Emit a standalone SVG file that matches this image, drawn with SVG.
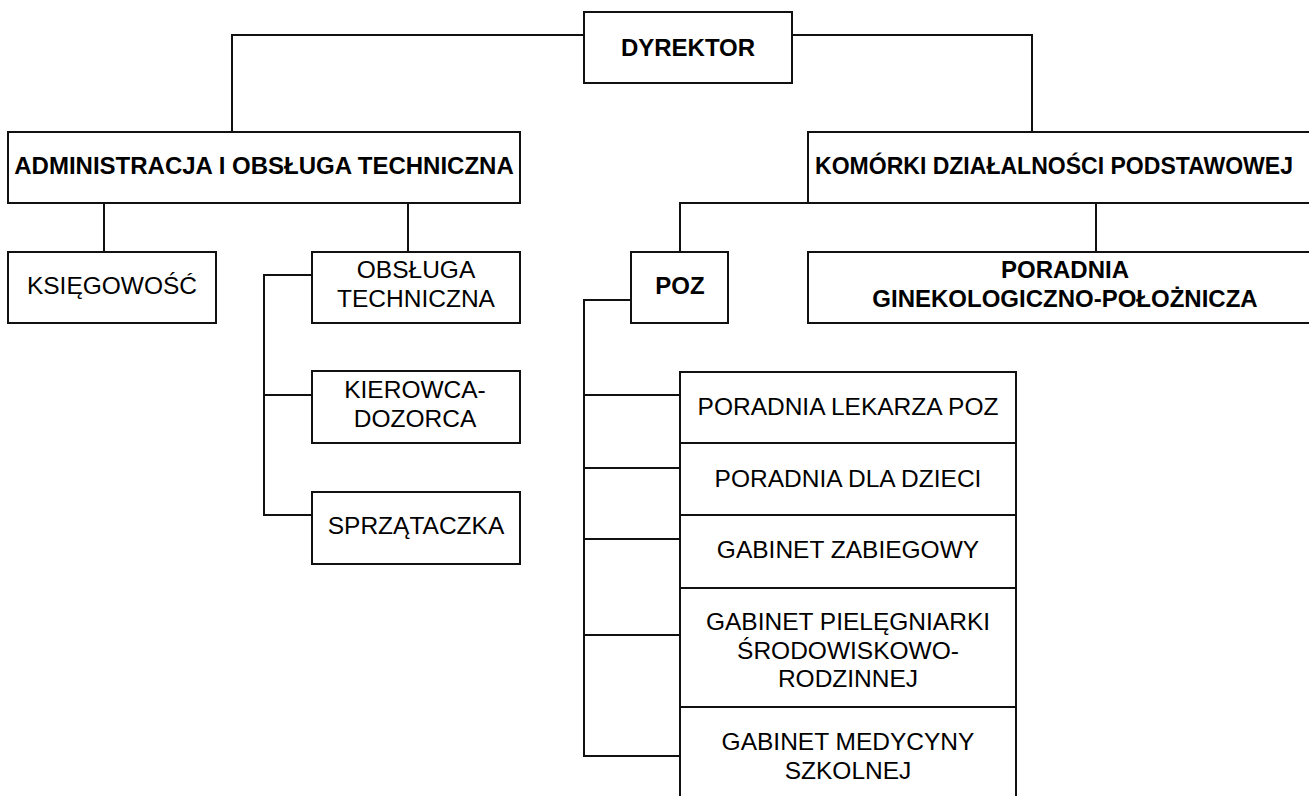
<svg xmlns="http://www.w3.org/2000/svg" width="1309" height="796" viewBox="0 0 1309 796">
<style>
rect{fill:#fff;stroke:#111;stroke-width:2}
#connectors path{fill:none;stroke:#111;stroke-width:2}
text{font-family:"Liberation Sans",Arial,sans-serif;font-size:24.5px;fill:#000;text-anchor:middle}
.b{font-weight:bold;font-size:24px}
</style>
<rect x="0" y="0" width="1309" height="796" style="stroke:none"/>
<g id="connectors">
<path d="M584,35 H232 V132"/>
<path d="M792,35 H1032 V132"/>
<path d="M104,204 V252"/>
<path d="M408,204 V252"/>
<path d="M312,275 H264 V515 H312"/>
<path d="M264,395 H312"/>
<path d="M808,203 H680 V252"/>
<path d="M1096,204 V252"/>
<path d="M631,300 H584 V756 H680"/>
<path d="M584,395 H680"/>
<path d="M584,468 H680"/>
<path d="M584,539 H680"/>
<path d="M584,635 H680"/>
</g>
<g id="dyrektor"><rect x="584" y="12" width="208" height="71"/><text class="b" x="688" y="56">DYREKTOR</text></g>
<g id="administracja"><rect x="8" y="132" width="512" height="71"/><text class="b" x="264" y="174">ADMINISTRACJA I OBSŁUGA TECHNICZNA</text></g>
<g id="komorki"><rect x="808" y="132" width="514" height="71"/><text class="b" x="815" y="174" style="text-anchor:start;font-size:23.5px" textLength="478" lengthAdjust="spacingAndGlyphs">KOMÓRKI DZIAŁALNOŚCI PODSTAWOWEJ</text></g>
<g id="ksiegowosc"><rect x="8" y="252" width="208" height="71"/><text x="112" y="294">KSIĘGOWOŚĆ</text></g>
<g id="obsluga"><rect x="312" y="252" width="208" height="71"/><text x="416" y="278">OBSŁUGA</text><text x="416" y="307">TECHNICZNA</text></g>
<g id="kierowca"><rect x="312" y="371" width="208" height="72"/><text x="415" y="398">KIEROWCA-</text><text x="415" y="427">DOZORCA</text></g>
<g id="sprzataczka"><rect x="312" y="492" width="208" height="72"/><text x="416" y="534">SPRZĄTACZKA</text></g>
<g id="poz"><rect x="631" y="252" width="97" height="71"/><text class="b" x="680" y="294">POZ</text></g>
<g id="ginekologiczna"><rect x="808" y="252" width="514" height="71"/><text class="b" x="1065" y="278">PORADNIA</text><text class="b" x="1065" y="307">GINEKOLOGICZNO-POŁOŻNICZA</text></g>
<g id="lekarza"><rect x="680" y="372" width="336" height="71"/><text x="848" y="415">PORADNIA LEKARZA POZ</text></g>
<g id="dzieci"><rect x="680" y="443" width="336" height="72"/><text x="848" y="487">PORADNIA DLA DZIECI</text></g>
<g id="zabiegowy"><rect x="680" y="515" width="336" height="73"/><text x="848" y="558">GABINET ZABIEGOWY</text></g>
<g id="pielegniarki"><rect x="680" y="588" width="336" height="119"/><text x="848" y="630">GABINET PIELĘGNIARKI</text><text x="848" y="659">ŚRODOWISKOWO-</text><text x="848" y="687">RODZINNEJ</text></g>
<g id="szkolnej"><rect x="680" y="707" width="336" height="120"/><text x="848" y="750">GABINET MEDYCYNY</text><text x="848" y="779">SZKOLNEJ</text></g>
</svg>
